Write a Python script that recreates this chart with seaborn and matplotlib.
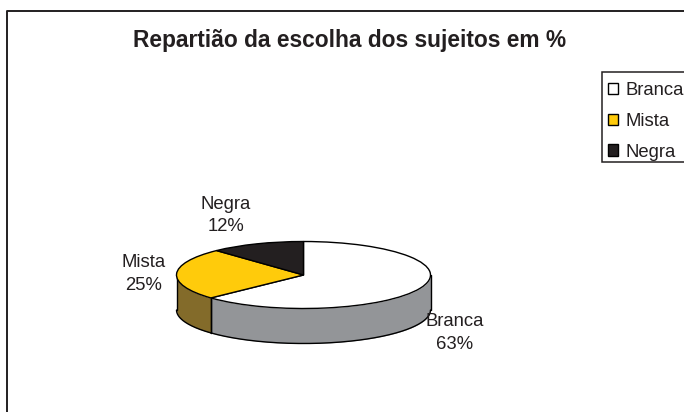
import numpy as np
import matplotlib
matplotlib.use("Agg")
import matplotlib.pyplot as plt
import seaborn as sns

categories = ["Branca", "Mista", "Negra"]
shares = [63, 25, 12]
top_colors = ["#FFFFFF", "#FFCB0B", "#231F20"]
side_colors = ["#939598", "#836B2A", "#1A1718"]
title = "Repartião da escolha dos sujeitos em %"

sns.set_theme(style="white")
plt.rcParams["font.family"] = ["Liberation Sans", "DejaVu Sans"]

W, H = 684, 412
fig = plt.figure(figsize=(W / 100, H / 100), dpi=100, facecolor="white")
ax = fig.add_axes([0, 0, 1, 1])

# pixel geometry of the tilted pie
cx, cy, rx, ry, depth = 303.5, 275.0, 127.0, 33.5, 35.0
d = depth / ry

wedges, _ = ax.pie(shares, colors=top_colors, startangle=90, counterclock=False,
                   radius=1, frame=True, normalize=True,
                   wedgeprops=dict(edgecolor="black", linewidth=1.0, zorder=3))
ax.set_aspect("auto")
ax.set_xlim((0 - cx) / rx, (W - cx) / rx)
ax.set_ylim((cy - H) / ry, cy / ry)
ax.set_xticks([])
ax.set_yticks([])
ax.set_axis_off()

# side wall, clockwise from twelve o'clock
edges = np.cumsum([0] + shares) / sum(shares) * 2 * np.pi
for i, cat in enumerate(categories):
    a = np.linspace(max(edges[i], np.pi / 2), min(edges[i + 1], 3 * np.pi / 2), 200)
    if a[-1] <= a[0]:
        continue
    x, y = np.sin(a), np.cos(a)
    ax.fill_between(x, y, y - d, color=side_colors[i], linewidth=0, zorder=1)
    ax.plot(x, y - d, color="black", lw=1.0, zorder=2)
    ax.plot([x[0], x[0]], [y[0], y[0] - d], color="black", lw=1.0, zorder=2)
    ax.plot([x[-1], x[-1]], [y[-1], y[-1] - d], color="black", lw=1.0, zorder=2)


def px(x, y):
    return x / W, 1 - y / H


fs = 13.3
for cat, val, (lx, ly) in zip(categories, shares, [(455, 333), (144, 274), (226, 215.5)]):
    fig.text(*px(lx, ly), f"{cat}\n{val}%", ha="center", va="center", fontsize=fs,
             color="#231F20", linespacing=1.45)

fig.text(*px(350, 40), title, ha="center", va="center", fontsize=16.4,
         fontweight="bold", color="#231F20")

# outer frame runs off the right and bottom of the picture
fig.add_artist(plt.Line2D([7 / W, 7 / W, 1], [0, 1 - 10.5 / H, 1 - 10.5 / H],
                          color="#231F20", lw=1.4))

# legend box, open at the right edge of the picture
x0, y0 = px(602, 162)
fig.add_artist(plt.Rectangle((x0, y0), 95 / W, 90 / H, transform=fig.transFigure,
                             facecolor="white", edgecolor="#231F20", linewidth=1.1))

leg = fig.legend(wedges, categories, loc="upper left",
                 bbox_to_anchor=px(602, 76.5), borderaxespad=0, frameon=False,
                 fontsize=fs, handlelength=0.56, handleheight=0.56,
                 handletextpad=0.38, labelspacing=0.74, borderpad=0.31,
                 labelcolor="#231F20")

fig.savefig("out.png", dpi=100)
